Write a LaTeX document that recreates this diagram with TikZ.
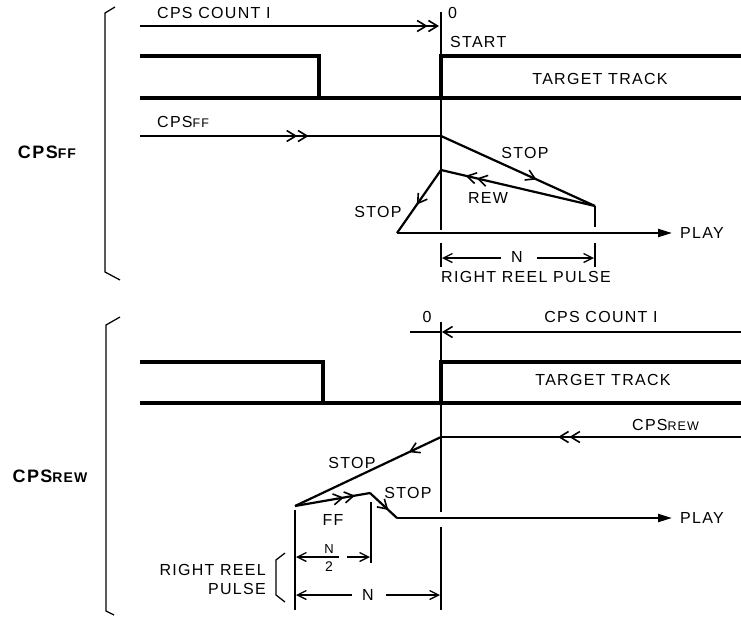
\documentclass[tikz,border=0pt]{standalone}
\usepackage{fontspec}
\setmainfont{Liberation Sans}[LetterSpace=8]
\usetikzlibrary{arrows.meta,decorations.markings}
\tikzset{
  barb/.tip={Straight Barb[length=9pt,width=11pt,line width=1.6pt]},
  midarr/.style={postaction={decorate,decoration={markings,mark=at position #1 with {\arrow{barb[]}}}}},
  middbl/.style={postaction={decorate,decoration={markings,mark=at position #1 with {\arrow{barb[]barb[]}}}}},
  guide/.style={line width=1.25pt},
  sig/.style={line width=3.3pt},
  traj/.style={line width=2.2pt},
  lbl/.style={font=\fontsize{16}{18}\selectfont, inner sep=0pt},
  side/.style={font=\fontsize{18}{20}\selectfont\bfseries, inner sep=0pt},
  dim/.style={guide,-{Straight Barb[length=9pt,width=9pt,line width=1.3pt]}},
}
\begin{document}
\begin{tikzpicture}[x=1pt,y=-1pt,line join=miter]
\useasboundingbox (0,0) rectangle (741,616);
% ===== top part =====
\draw[guide] (115,7) -- (105,13) -- (105,272) -- (120,280);
\node[side] (cpsffside) at (47,152) {CPS{\fontsize{14}{14}\selectfont FF}};
\coordinate (t0) at (441,12);
\coordinate (tb) at (441,230);
\draw[guide] (t0) -- (tb);
\coordinate (ca) at (140,26);
\coordinate (cb) at (439,26);
\draw[guide,-{barb[]barb[]}] (ca) -- (cb);
\node[lbl,anchor=west] (cnt1) at (157,13) {CPS COUNT I};
\node[lbl,anchor=west] (zero1) at (448,13) {0};
\node[lbl,anchor=west] (start) at (450,42) {START};
% target track signal
\coordinate (s1) at (140,56); \coordinate (s2) at (319,56); \coordinate (s3) at (319,98);
\coordinate (s4) at (140,98); \coordinate (s5) at (741,98);
\coordinate (s6) at (441,98); \coordinate (s7) at (441,56); \coordinate (s8) at (741,56);
\draw[sig] (s1) -- (s2) -- (s3);
\draw[sig] (s4) -- (s5);
\draw[sig] (s6) -- (s7) -- (s8);
\node[lbl] (tt1) at (600,79) {TARGET TRACK};
% CPS FF trajectory
\node[lbl,anchor=west] (cpsffl) at (157,122) {CPS{\fontsize{12.5}{12.5}\selectfont FF}};
\coordinate (f0) at (140,136); \coordinate (f1) at (441,136);
\coordinate (f2) at (595,206); \coordinate (f3) at (441,170);
\coordinate (f4) at (397,233); \coordinate (f5) at (672,233);
\draw[guide,line width=1.6pt,middbl=0.56] (f0) -- (f1);
\draw[traj,midarr=0.62] (f1) -- (f2);
\draw[traj,middbl=0.84] (f2) -- (f3);
\draw[traj,midarr=0.55] (f3) -- (f4);
\draw[traj,-{Triangle[length=14pt,width=8pt]}] (f4) -- (f5);
\node[lbl,anchor=west] (play1) at (680,233) {PLAY};
\node[lbl] (stop1) at (525,153) {STOP};
\node[lbl] (rew1) at (488,198) {REW};
\node[lbl] (stop2) at (378,212) {STOP};
% N dimension
\coordinate (v1) at (595,227); \coordinate (v2) at (595,243); \coordinate (v3) at (595,267);
\coordinate (v4) at (441,243); \coordinate (v5) at (441,267);
\draw[guide] (f2) -- (v1);
\draw[guide] (v2) -- (v3);
\draw[guide] (v4) -- (v5);
\node[lbl] (n1) at (517,257) {N};
\draw[dim] (n1.west) ++(-10,1) -- (442,258);
\draw[dim] (n1.east) ++(14,1) -- (594,258);
\node[lbl] (rrp1) at (526,277) {RIGHT REEL PULSE};
% ===== bottom part =====
\draw[guide] (120,317) -- (106,325) -- (106,611) -- (114,615);
\node[side] (cpsrewside) at (50,476) {CPS{\fontsize{14}{14}\selectfont REW}};
\node[lbl] (zero2) at (427,317) {0};
\node[lbl] (cnt2) at (601,317) {CPS COUNT I};
\coordinate (k0) at (741,332); \coordinate (k1) at (442,332); \coordinate (k2) at (410,332);
\draw[guide,-{barb[]}] (k0) -- (k1);
\draw[guide] (k1) -- (k2);
\coordinate (u0) at (441,322); \coordinate (u1) at (441,512);
\coordinate (u2) at (441,527); \coordinate (u3) at (441,610);
\draw[guide] (u0) -- (u1);
\draw[guide] (u2) -- (u3);
\coordinate (b1) at (140,362); \coordinate (b2) at (323,362); \coordinate (b3) at (323,403);
\coordinate (b4) at (140,403); \coordinate (b5) at (741,403);
\coordinate (b6) at (441,403); \coordinate (b7) at (441,362); \coordinate (b8) at (741,362);
\draw[sig] (b1) -- (b2) -- (b3);
\draw[sig] (b4) -- (b5);
\draw[sig] (b6) -- (b7) -- (b8);
\node[lbl] (tt2) at (603,380) {TARGET TRACK};
% CPS REW trajectory
\node[lbl,anchor=west] (cpsrewl) at (632,425) {CPS{\fontsize{12.5}{12.5}\selectfont REW}};
\coordinate (r0) at (741,437); \coordinate (r1) at (441,437);
\coordinate (r2) at (295,506); \coordinate (r3) at (370,493);
\coordinate (r4) at (397,518); \coordinate (r5) at (672,518);
\draw[guide,line width=1.6pt,middbl=0.61] (r0) -- (r1);
\draw[traj,midarr=0.22] (r1) -- (r2);
\draw[traj,middbl=0.8] (r2) -- (r3);
\draw[traj,midarr=0.68] (r3) -- (r4);
\draw[traj,-{Triangle[length=14pt,width=8pt]}] (r4) -- (r5);
\node[lbl,anchor=west] (play2) at (680,518) {PLAY};
\node[lbl] (stop3) at (352,463) {STOP};
\node[lbl] (stop4) at (408,493) {STOP};
\node[lbl] (ff) at (333,520) {FF};
% dimensions
\coordinate (w1) at (295,510); \coordinate (w2) at (295,610);
\coordinate (w3) at (371,502); \coordinate (w4) at (371,563);
\draw[guide] (w1) -- (w2);
\draw[guide] (w3) -- (w4);
\node[lbl,font=\fontsize{13}{13}\selectfont] (nh) at (329,549) {N};
\node[lbl,font=\fontsize{14}{14}\selectfont] (two) at (329,567) {2};
\coordinate (h1) at (319,557); \coordinate (h2) at (339,557);
\draw[dim] (h1) -- (296,557);
\draw[guide] (h1) -- (h2);
\draw[dim] (347,557) -- (370,557);
\node[lbl] (n2) at (368,595) {N};
\draw[dim] (n2.west) ++(-10,0) -- (296,595);
\draw[dim] (n2.east) ++(12,0) -- (440,595);
\draw[guide] (285,553) -- (276,560) -- (276,595) -- (285,602);
\node[lbl,anchor=east] (rr) at (266,570) {RIGHT REEL};
\node[lbl,anchor=east] (pl) at (266,589) {PULSE};
\end{tikzpicture}
\end{document}
